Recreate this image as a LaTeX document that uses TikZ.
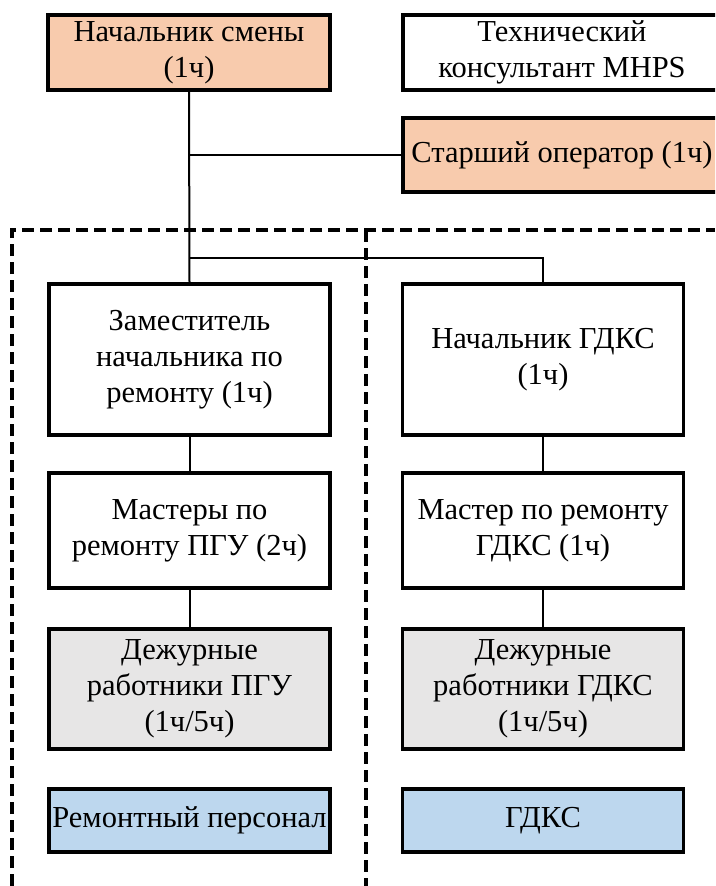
\documentclass[tikz,border=0pt]{standalone}
\usepackage{fontspec}
\setmainfont{Liberation Serif}
\definecolor{shiftorange}{RGB}{248,203,173}
\definecolor{dutygray}{RGB}{231,230,230}
\definecolor{groupblue}{RGB}{189,215,238}
\begin{document}
\begin{tikzpicture}[x=1pt,y=-1pt,
  box/.style={draw=black, line width=3.2pt, align=center, inner sep=1pt,
    font=\fontsize{30.5}{36}\selectfont},
  wide/.style={box, minimum width=318pt, minimum height=75pt},
  col/.style={box, minimum width=281pt},
  link/.style={draw=black, line width=2pt},
  zone/.style={draw=black, line width=3.4pt, dash pattern=on 12pt off 6pt}]
\path[use as bounding box] (0,0) rectangle (715,886);
\clip (0,0) rectangle (715,886);

% top level
\node[box, fill=shiftorange, minimum width=282pt, minimum height=75pt]
  (chief) at (189,52.5) {Начальник смены\\(1ч)};
\node[wide] (mhps) at (562,52.5) {Технический\\консультант MHPS};
\node[wide, fill=shiftorange, minimum height=74pt]
  (senior) at (562,155) {Старший оператор (1ч)};

% repair column
\node[col, minimum height=151pt] (deputy) at (189.5,359.5)
  {Заместитель\\начальника по\\ремонту (1ч)};
\node[col, minimum height=115pt] (masters) at (189.5,530.5)
  {Мастеры по\\ремонту ПГУ (2ч)};
\node[col, fill=dutygray, minimum height=120pt] (dutyccgt) at (189.5,689)
  {Дежурные\\работники ПГУ\\(1ч/5ч)};
\node[col, fill=groupblue, minimum height=63pt] (repair) at (189.5,820.5)
  {Ремонтный персонал};

% gas booster column
\node[col, minimum height=151pt] (gdkshead) at (543,359.5)
  {Начальник ГДКС\\(1ч)};
\node[col, minimum height=115pt] (gdksmaster) at (543,530.5)
  {Мастер по ремонту\\ГДКС (1ч)};
\node[col, fill=dutygray, minimum height=120pt] (dutygdks) at (543,689)
  {Дежурные\\работники ГДКС\\(1ч/5ч)};
\node[col, fill=groupblue, minimum height=63pt] (gdks) at (543,820.5)
  {ГДКС};

% zone frame
\coordinate (zoneA) at (12,886);
\coordinate (zoneB) at (12,230);
\coordinate (zoneC) at (715,230);
\coordinate (zoneM) at (366,230);
\coordinate (zoneN) at (366,886);
\draw[zone] (zoneA) -- (zoneB) -- (zoneC);
\draw[zone] (zoneM) -- (zoneN);

% connectors
\coordinate (fork) at (189,258);
\draw[link] (chief.south) -- (deputy.north);
\draw[link] (senior.west) -- (senior.west -| chief.south);
\draw[link] (fork) -| (gdkshead.north);
\draw[link] (deputy.south) -- (masters.north);
\draw[link] (masters.south) -- (dutyccgt.north);
\draw[link] (gdkshead.south) -- (gdksmaster.north);
\draw[link] (gdksmaster.south) -- (dutygdks.north);
\end{tikzpicture}
\end{document}
